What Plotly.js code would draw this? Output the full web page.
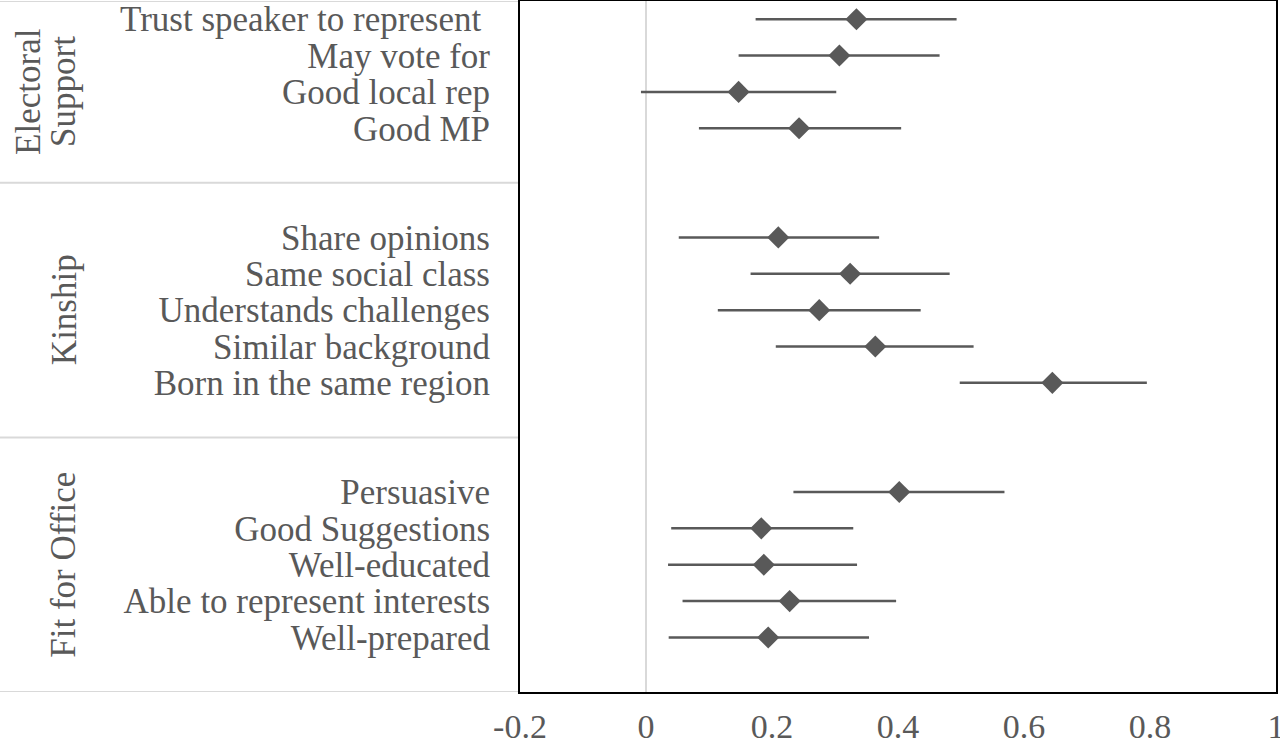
<!DOCTYPE html>
<html>
<head>
<meta charset="utf-8">
<script src="https://cdn.plot.ly/plotly-3.0.1.min.js"></script>
<style>html,body{margin:0;padding:0;background:#fff;}#chart{width:1280px;height:746px;}</style>
</head>
<body>
<div id="chart"></div>
<script>
// ---- data ----
const groupNames = ["Electoral<br>Support", "Kinship", "Fit for Office"];
const groupItems = [
  ["Trust speaker to represent\u00a0", "May vote for", "Good local rep", "Good MP"],
  ["Share opinions", "Same social class", "Understands challenges", "Similar background", "Born in the same region"],
  ["Persuasive", "Good Suggestions", "Well-educated", "Able to represent interests", "Well-prepared"]
];
const estimates = [0.334, 0.307, 0.147, 0.243, 0.210, 0.324, 0.275, 0.364, 0.645, 0.402, 0.183, 0.187, 0.228, 0.194];
const lower     = [0.174, 0.147, -0.008, 0.084, 0.052, 0.166, 0.114, 0.206, 0.498, 0.234, 0.040, 0.035, 0.058, 0.036];
const upper     = [0.493, 0.466, 0.302, 0.405, 0.370, 0.482, 0.436, 0.520, 0.795, 0.569, 0.329, 0.335, 0.397, 0.354];
const xTicks = [-0.2, 0, 0.2, 0.4, 0.6, 0.8, 1];
const padBefore = [0, 1, 1];
const padAfter  = [1, 1, 1];

// ---- layout of slots ----
const labels = [], ypos = [], bounds = [-0.5], centers = [];
let slot = 0;
groupItems.forEach((items, g) => {
  const start = slot - 0.5;
  slot += padBefore[g];
  items.forEach(lbl => { labels.push(lbl); ypos.push(slot); slot += 1; });
  slot += padAfter[g];
  const end = slot - 0.5;
  bounds.push(end);
  centers.push((start + end) / 2);
});

const grey = "#595959";
const font = "Liberation Serif, Times New Roman, serif";
const L = 520, R = 1276;

const trace = {
  type: "scatter", mode: "markers",
  x: estimates, y: ypos,
  marker: {symbol: "diamond", size: 17, color: grey},
  error_x: {
    type: "data", symmetric: false,
    array: estimates.map((v, i) => upper[i] - v),
    arrayminus: estimates.map((v, i) => v - lower[i]),
    color: grey, thickness: 2.5, width: 0
  },
  hoverinfo: "skip", showlegend: false
};

const plotW = R - L;
const shapes = bounds.map(b => ({
  type: "line", xref: "paper", yref: "y",
  x0: -L / plotW, x1: 0, y0: b, y1: b,
  line: {color: "#d9d9d9", width: 2}, layer: "below"
}));

const annotations = [];
groupNames.forEach((name, g) => {
  const lines = name.split("<br>");
  lines.forEach((ln, k) => {
    const offset = (lines.length - 1 - k) * 35;
    annotations.push({
      xref: "paper", yref: "y", x: 0, y: centers[g],
      xanchor: "center", yanchor: "middle",
      xshift: -(L - 64) - offset,
      text: ln, textangle: -90, showarrow: false,
      font: {family: font, size: 35, color: grey}
    });
  });
});

const layout = {
  width: 1280, height: 746,
  margin: {l: L, r: 1280 - R, t: 1, b: 54},
  paper_bgcolor: "#fff", plot_bgcolor: "#fff",
  xaxis: {
    range: [-0.2, 1], tickvals: xTicks, ticktext: xTicks.map(v => String(v)),
    showgrid: false, zeroline: true, zerolinecolor: "#d9d9d9", zerolinewidth: 2,
    showline: true, mirror: true, linecolor: "#000", linewidth: 2,
    ticks: "", ticklabeloverflow: "allow", ticklabelstandoff: 3,
    tickfont: {family: font, size: 34, color: grey}
  },
  yaxis: {
    range: [bounds[bounds.length - 1], -0.5], tickvals: ypos, ticktext: labels,
    showgrid: false, zeroline: false,
    showline: true, mirror: true, linecolor: "#000", linewidth: 2,
    ticks: "", ticklabelstandoff: 21,
    tickfont: {family: font, size: 35, color: grey}
  },
  shapes: shapes,
  annotations: annotations
};

Plotly.newPlot("chart", [trace], layout, {displayModeBar: false, staticPlot: true});
</script>
</body>
</html>
